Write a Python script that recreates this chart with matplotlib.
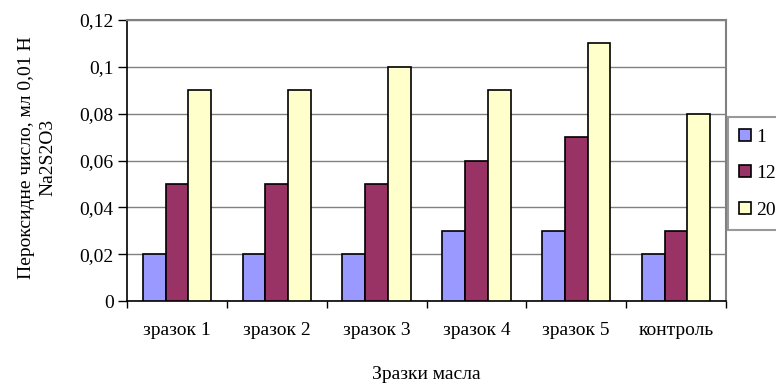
import matplotlib.pyplot as plt
import numpy as np

samples = ["зразок 1", "зразок 2", "зразок 3", "зразок 4", "зразок 5", "контроль"]
day_labels = ["1", "12", "20"]
day1 = [0.02, 0.02, 0.02, 0.03, 0.03, 0.02]
day12 = [0.05, 0.05, 0.05, 0.06, 0.07, 0.03]
day20 = [0.09, 0.09, 0.10, 0.09, 0.11, 0.08]
yticks = [0, 0.02, 0.04, 0.06, 0.08, 0.1, 0.12]
ytick_labels = ["0", "0,02", "0,04", "0,06", "0,08", "0,1", "0,12"]

colors = ["#9999FF", "#993366", "#FFFFCC"]
fs = 14

plt.rcParams['font.family'] = ['Liberation Serif', 'DejaVu Serif']

fig = plt.figure(figsize=(7.76, 3.85), dpi=100)
ax = fig.add_axes([127 / 776, 1 - 301 / 385, 599 / 776, 281 / 385])

x = np.arange(len(samples))
w = 0.228
for i, (vals, c, lab) in enumerate(zip([day1, day12, day20], colors, day_labels)):
    ax.bar(x + (i - 1) * w, vals, w, color=c, edgecolor="black", linewidth=1.2,
           label=lab, zorder=3)

ax.set_xlim(-0.5, len(samples) - 0.5)
ax.set_ylim(0, 0.12)
ax.set_yticks(yticks)
ax.set_yticklabels(ytick_labels, fontsize=fs)
ax.set_xticks(x)
ax.set_xticklabels(samples, fontsize=fs)
ax.set_xticks(np.arange(len(samples) + 1) - 0.5, minor=True)
ax.tick_params(axis='x', which='major', length=0, pad=15)
ax.tick_params(axis='x', which='minor', length=5, width=1)
ax.tick_params(axis='y', length=6.5, width=1, pad=3)

ax.yaxis.grid(True, color="#808080", linewidth=1, zorder=0)
for s in ["left", "bottom"]:
    ax.spines[s].set_color("black")
    ax.spines[s].set_linewidth(1.2)
for s in ["top", "right"]:
    ax.spines[s].set_color("#808080")
    ax.spines[s].set_linewidth(1.5)

ax.set_ylabel("Пероксидне число, мл 0,01 Н\nNa2S2O3", fontsize=fs, linespacing=1.3)
ax.yaxis.set_label_coords(-0.15, 0.51)
ax.yaxis.label.set_va("center")
ax.set_xlabel("Зразки масла", fontsize=fs)
ax.xaxis.set_label_coords(0.5, -0.262)
ax.xaxis.label.set_va("center")

# legend sits against the right border of the plot area
leg = ax.legend(loc="upper left", bbox_to_anchor=(1.003, 0.655), fontsize=fs,
                frameon=True, fancybox=False, handlelength=0.57, handleheight=0.57,
                handletextpad=0.3, labelspacing=1.0, borderpad=0.6,
                borderaxespad=0)
leg.get_frame().set_edgecolor("#808080")
leg.get_frame().set_linewidth(1.5)
for h in leg.legend_handles:
    h.set_linewidth(1.2)

fig.savefig("out.png", dpi=100)
